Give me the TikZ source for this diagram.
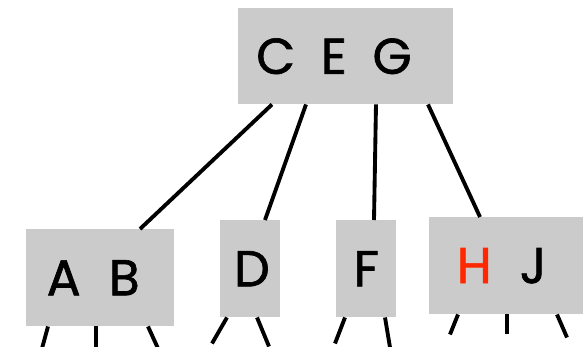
\documentclass[tikz,border=0pt]{standalone}
\usepackage{fontspec}
\setmainfont{Poppins}[BoldFont=Poppins, BoldFeatures={FakeBold=1.3}]
\usetikzlibrary{calc}
\definecolor{boxgray}{RGB}{203,203,203}
\definecolor{keyred}{RGB}{255,40,0}
\tikzset{
  keybox/.style={fill=boxgray, inner sep=0pt, anchor=north west, font=\fontsize{43}{43}\selectfont\bfseries},
  link/.style={black, line width=3.3pt}
}

\begin{document}
\begin{tikzpicture}[x=0.03cm, y=-0.03cm]
        \clip (0,0) rectangle (583,347);
        % tree nodes
        \node[keybox, minimum width=215*0.03cm, minimum height=96*0.03cm] (ceg) at (238,8)
            {C\hspace{22pt}E\hspace{22pt}G\kern20pt};
        \node[keybox, minimum width=148*0.03cm, minimum height=97*0.03cm] (ab) at (26,229)
            {A\hspace{24pt}B\kern12pt};
        \node[keybox, minimum width=60*0.03cm, minimum height=97*0.03cm] (d) at (220,220)
            {\kern3pt D};
        \node[keybox, minimum width=60*0.03cm, minimum height=97*0.03cm] (f) at (336,220)
            {F};
        \node[keybox, minimum width=180*0.03cm, minimum height=97*0.03cm] (hj) at (429,217)
            {\textcolor{keyred}{H}\hspace{24pt}J\kern30pt};

        % edges from the root
        \draw[link] ($(ceg.south west)+(34,0)$) -- ($(ab.north west)+(114,0)$);
        \draw[link] ($(ceg.south west)+(68,0)$) -- ($(d.north west)+(45,0)$);
        \draw[link] ($(ceg.south west)+(138,0)$) -- ($(f.north west)+(38,0)$);
        \draw[link] ($(ceg.south west)+(190,0)$) -- ($(hj.north west)+(51,0)$);

        % stubs to lower children
        \foreach \n/\s/\dx/\dy [count=\i] in {ab/22/-6/22, ab/70/0/22, ab/122/10/22,
            d/7/-15/26, d/37/12/29, f/9/-10/26, f/49/5/30,
            hj/29/-8/20, hj/78/0/20, hj/128/10/23}
          \draw[link] ($(\n.south west)+(\s,0)$) -- ++(\dx,\dy) coordinate (stub\i);
\end{tikzpicture}
\end{document}
